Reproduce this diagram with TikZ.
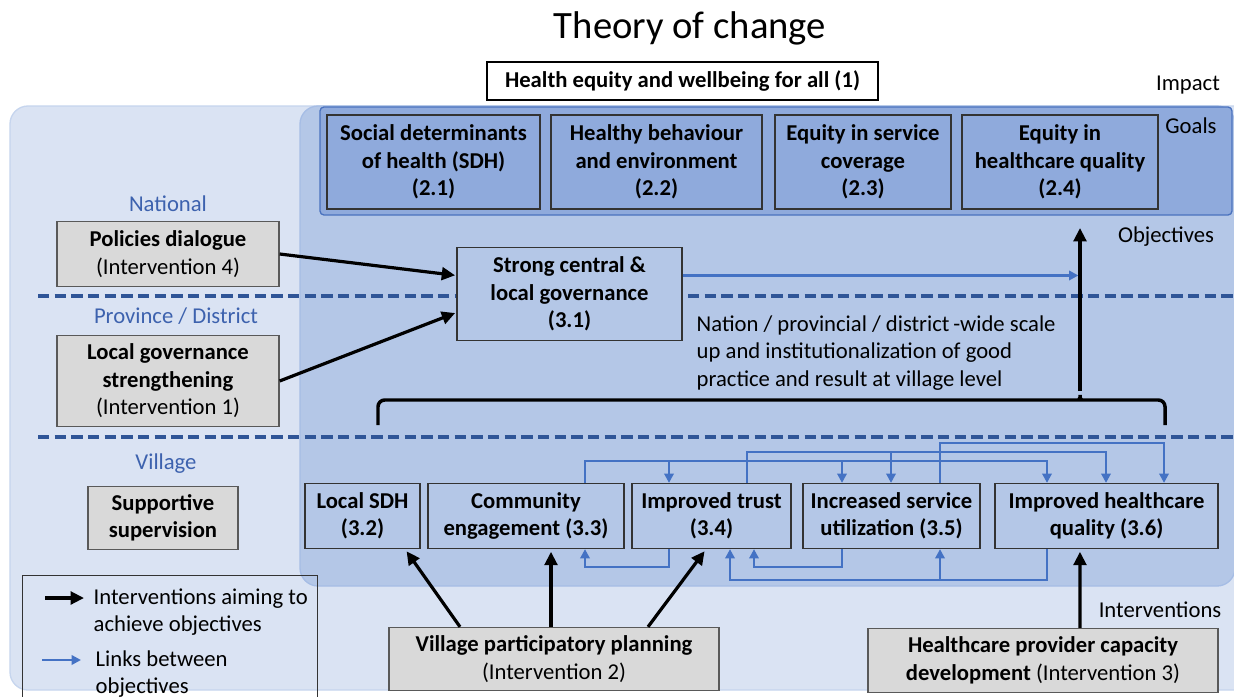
\documentclass[tikz,border=0pt]{standalone}
\usepackage{fontspec}
\setmainfont{Carlito}
\usetikzlibrary{arrows.meta}
\definecolor{outerbg}{HTML}{DAE3F3}
\definecolor{outerln}{HTML}{C6D5EE}
\definecolor{innerbg}{HTML}{B4C7E7}
\definecolor{innerln}{HTML}{A6BDE5}
\definecolor{goalbg}{HTML}{8FAADC}
\definecolor{goalln}{HTML}{4A72BE}
\definecolor{dashc}{HTML}{2F5597}
\definecolor{linkc}{HTML}{4472C4}
\definecolor{lvlc}{HTML}{3D62AE}
\definecolor{grayfill}{HTML}{D9D9D9}
\definecolor{grayln}{HTML}{595959}
\begin{document}
\begin{tikzpicture}[x=0.75pt,y=-0.75pt,
  font=\fontsize{17}{20.6}\selectfont,
  sz/.style 2 args={minimum width=#1*0.75pt, minimum height=#2*0.75pt},
  objbox/.style={draw=black!80, line width=0.9pt, inner sep=0pt, align=center, font=\fontsize{17}{20.6}\selectfont\bfseries},
  vbox/.style={objbox, fill=innerbg},
  ibox/.style={draw=grayln, fill=grayfill, line width=1pt, inner sep=0pt, align=center},
  lvl/.style={text=lvlc},
  levelline/.style={draw=dashc, line width=2.3pt, dash pattern=on 8.5pt off 4pt},
  iarrow/.style={line width=2.4pt, -{Triangle[length=10pt,width=9.5pt]}},
  blink/.style={draw=linkc, line width=2pt, -{Triangle[length=7pt,width=7pt]}},
  brace/.style={line width=2.6pt, rounded corners=5pt}]

\clip (0,0) rectangle (1234,696);
\fill[white] (0,0) rectangle (1234,696);

% level panels
\draw[fill=outerbg, draw=outerln, line width=1pt, rounded corners=13.5pt] (10,106) rectangle (1270,690);
\draw[fill=innerbg, draw=innerln, line width=1pt, rounded corners=13.5pt] (300,106) rectangle (1235,586);
\draw[fill=goalbg, draw=goalln, line width=1pt, rounded corners=3pt] (320,107) rectangle (1232,215);

% title and impact
\node (title) at (690,28) {\fontsize{29}{34}\selectfont Theory of change};
\node[draw=black, line width=0.9pt, fill=white, inner sep=0pt, sz={391}{38}, font=\fontsize{17}{20.6}\selectfont\bfseries] (impact) at (682.5,81) {Health equity and wellbeing for all (1)};

% side labels
\node (limpact) at (1188,85) {Impact};
\node (lgoals) at (1191,126) {Goals};
\node (lobj) at (1166,237) {Objectives};
\node (lint) at (1160,610) {Interventions};

% goals
\node[objbox, sz={213}{94}] (g1) at (433.5,162) {Social determinants\\of health (SDH)\\(2.1)};
\node[objbox, sz={211}{94}] (g2) at (656.5,162) {Healthy behaviour\\and environment\\(2.2)};
\node[objbox, sz={176}{94}] (g3) at (863,162) {Equity in service\\coverage\\(2.3)};
\node[objbox, sz={196}{94}] (g4) at (1060,162) {Equity in\\healthcare quality\\(2.4)};

% level separators
\draw[levelline] (38,296) -- (1234,296);
\draw[levelline] (38,437) -- (1234,437);

% level names
\node[lvl] (lnat) at (168,204) {National};
\node[lvl] (lprov) at (176,316) {Province / District};
\node[lvl] (lvil) at (166,464) {Village};

% interventions
\node[ibox, sz={222}{65}] (pol) at (168,254) {\textbf{Policies dialogue}\\(Intervention 4)};
\node[ibox, sz={222}{91}] (lgov) at (168,381) {\textbf{Local governance}\\\textbf{strengthening}\\(Intervention 1)};
\node[ibox, sz={150}{63}] (sup) at (163,518) {\textbf{Supportive}\\\textbf{supervision}};
\node[ibox, sz={330}{63}] (vpp) at (554,659) {\textbf{Village participatory planning}\\(Intervention 2)};
\node[ibox, sz={350}{64}] (hpc) at (1043,660.5) {\textbf{Healthcare provider capacity}\\\textbf{development} (Intervention 3)};

% objectives
\node[vbox, sz={225}{93}] (s31) at (569.5,294) {Strong central \&\\local governance\\(3.1)};
\node[anchor=west, align=left] (scale) at (692,353) {Nation / provincial / district\,-wide scale\\up and institutionalization of good\\practice and result at village level};

\node[vbox, sz={115}{65}] (v2) at (362.5,516) {Local SDH\\(3.2)};
\node[vbox, sz={196}{65}] (v3) at (526,516) {Community\\engagement (3.3)};
\node[vbox, sz={159}{65}] (v4) at (711.5,516) {Improved trust\\(3.4)};
\node[vbox, sz={177}{65}] (v5) at (891.5,516) {Increased service\\utilization (3.5)};
\node[vbox, sz={223}{65}] (v6) at (1106.5,516) {Improved healthcare\\quality (3.6)};

% scale-up brace and arrow to the goals
\coordinate (btip) at (1080,391);
\coordinate (otop) at (1080,228);
\draw[brace] (378,425) |- (1072,400) .. controls (1078,400) and (1080,398) .. (btip)
  .. controls (1080,398) and (1082,400) .. (1088,400) -| (1165,425);
\draw[iarrow] (btip) -- (otop);

% interventions to objectives
\draw[iarrow, shorten >=1pt] (pol.east) -- ([yshift=13.9pt]s31.west);
\draw[iarrow, shorten >=1pt] (lgov.east) -- ([yshift=-13.9pt]s31.west);
\draw[iarrow, shorten >=2pt] ([xshift=-70.5pt]vpp.north) -- ([xshift=31.9pt]v2.south);
\draw[iarrow, shorten >=2pt] ([xshift=-2.25pt]vpp.north) -- ([xshift=18.75pt]v3.south);
\draw[iarrow, shorten >=2pt] ([xshift=70.5pt]vpp.north) -- ([xshift=-4pt]v4.south);
\draw[iarrow, shorten >=2pt] ([xshift=27.75pt]hpc.north) -- ([xshift=-19.9pt]v6.south);

% 3.1 feeds the scale-up arrow
\coordinate (b31) at ([yshift=13.9pt]s31.east);
\draw[blink, shorten >=1.2pt] (b31) -- (b31 -| btip);

% links between village objectives
\coordinate (kA) at (585,0);
\coordinate (kB) at (669,0);
\coordinate (kC) at (730,0);
\coordinate (kD) at (747,0);
\coordinate (kE) at (754,0);
\coordinate (kF) at (842,0);
\coordinate (kG) at (891,0);
\coordinate (kH) at (940,0);
\coordinate (kI) at (1047,0);
\coordinate (kJ) at (1106,0);
\coordinate (kK) at (1164,0);
\coordinate (rA) at (0,461);
\coordinate (rB) at (0,452);
\coordinate (rC) at (0,443);
\coordinate (rD) at (0,567);
\coordinate (rE) at (0,580);

\draw[blink] (v3.north -| kA) -- (kA |- rA) -- (kI |- rA) -- (v6.north -| kI);
\draw[blink] (kB |- rA) -- (v4.north -| kB);
\draw[blink] (kF |- rA) -- (v5.north -| kF);
\draw[blink] (v4.north -| kD) -- (kD |- rB) -- (kJ |- rB) -- (v6.north -| kJ);
\draw[blink] (kG |- rB) -- (v5.north -| kG);
\draw[blink] (v5.north -| kH) -- (kH |- rC) -- (kK |- rC) -- (v6.north -| kK);
\draw[blink] (v4.south -| kB) -- (kB |- rD) -- (kA |- rD) -- (v3.south -| kA);
\draw[blink] (v5.south -| kF) -- (kF |- rD) -- (kE |- rD) -- (v4.south -| kE);
\draw[blink] (v6.south -| kI) -- (kI |- rE) -- (kC |- rE) -- (v4.south -| kC);
\draw[blink] (kH |- rE) -- (v5.south -| kH);

% legend
\node[draw=black!80, line width=1pt, sz={295}{140}, anchor=north west] (leg) at (22,575) {};
\node[anchor=west, align=left] (lt1) at (89,612) {Interventions aiming to\\achieve objectives};
\node[anchor=west, align=left] (lt2) at (91,674) {Links between\\objectives};
\coordinate (la1) at (45,598);
\coordinate (la2) at (84,598);
\coordinate (lb1) at (42,660);
\coordinate (lb2) at (81,660);
\draw[iarrow] (la1) -- (la2);
\draw[blink] (lb1) -- (lb2);
\end{tikzpicture}
\end{document}
